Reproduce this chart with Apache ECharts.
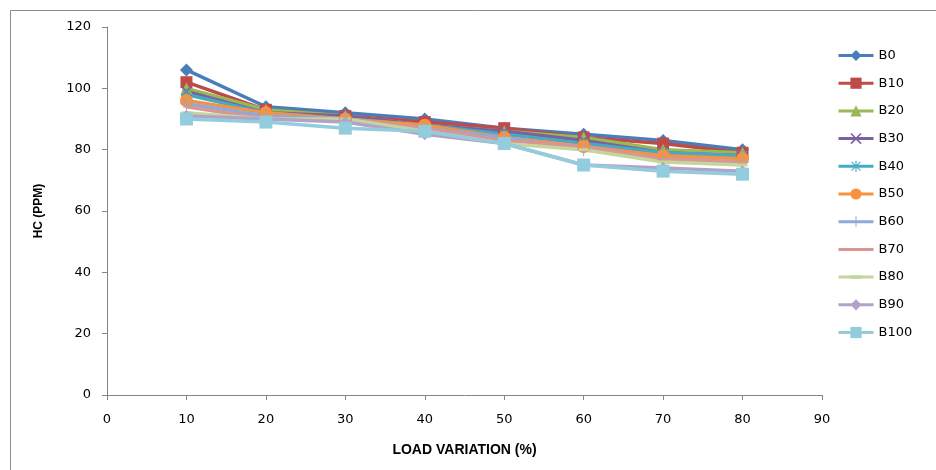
<!DOCTYPE html>
<html>
<head>
<meta charset="utf-8">
<script src="https://cdn.jsdelivr.net/npm/echarts@6/dist/echarts.min.js"></script>
<style>html,body{margin:0;padding:0;background:#fff;}#c{width:936px;height:470px;}</style>
</head>
<body>
<div id="c"></div>
<script>
var loads = [10, 20, 30, 40, 50, 60, 70, 80];
var seriesNames = ['B0','B10','B20','B30','B40','B50','B60','B70','B80','B90','B100'];
var B0   = [106, 94, 92, 90, 87, 85, 83, 80];
var B10  = [102, 93, 91, 89, 87, 84, 82, 79];
var B20  = [100, 93, 91, 88, 86, 84, 80, 79];
var B30  = [99, 92, 91, 88, 86, 83, 79, 78];
var B40  = [98, 92, 90, 88, 85, 82, 79, 78];
var B50  = [96, 92, 90, 88, 84, 81, 78, 77];
var B60  = [95, 91, 90, 87, 84, 80, 77, 76];
var B70  = [94, 90, 90, 87, 83, 81, 77, 76];
var B80  = [92, 90, 90, 86, 82, 80, 76, 75];
var B90  = [91, 90, 89, 85, 82, 75, 74, 73];
var B100 = [90, 89, 87, 86, 82, 75, 73, 72];
var values = [B0,B10,B20,B30,B40,B50,B60,B70,B80,B90,B100];

var colors = ['#4A7EBB','#BE4B48','#98B954','#7D60A0','#46AAC5','#F69240','#8EA9DB','#D99694','#C3D69B','#B3A2C7','#93CDDD'];
var symX = 'path://M0,1L1,0L5,4L9,0L10,1L6,5L10,9L9,10L5,6L1,10L0,9L4,5Z';
var symStar = 'path://M4.5,0H5.5V10H4.5Z M0,4.5H10V5.5H0Z M0.7,1.4L1.4,0.7L9.3,8.6L8.6,9.3Z M8.6,0.7L9.3,1.4L1.4,9.3L0.7,8.6Z';
var symPlus = 'path://M4.6,0H5.4V4.6H10V5.4H5.4V10H4.6V5.4H0V4.6H4.6Z';
var symDashShort = 'path://M0,0L0,0 M2,4H8V6H2Z M10,10L10,10';
var symDash = 'path://M0,0L0,0 M0,3.5H10V6.5H0Z M10,10L10,10';
var symbols = ['diamond','rect','triangle',symX,symStar,'circle',symPlus,symDashShort,symDash,'diamond','rect'];
var sizes = [13,12,12,11,11,13,13,10,10,12,13];

var series = seriesNames.map(function(n,i){
  return {
    name: n, type: 'line',
    data: loads.map(function(x,j){ return [x, values[i][j]]; }),
    symbol: symbols[i], symbolSize: sizes[i], symbolKeepAspect: true,
    lineStyle: {width: 3.5, color: colors[i]},
    itemStyle: {color: colors[i]},
    emphasis: {disabled: true},
    animation: false
  };
});

var chart = echarts.init(document.getElementById('c'), null, {renderer: 'canvas'});
chart.setOption({
  animation: false,
  color: colors,
  graphic: [{type:'rect', shape:{x:10.5,y:10.5,width:2000,height:2000}, style:{fill:'none', stroke:'#8c8c8c', lineWidth:1}, z:-1}],
  grid: {left: 107, right: 114, top: 27, bottom: 75},
  legend: {
    orient: 'vertical', left: 832, top: 44,
    itemWidth: 35, itemHeight: 14, itemGap: 14.7, itemTextGap: 4,
    lineStyle: {width: 3},
    textStyle: {fontFamily: 'DejaVu Sans', fontSize: 13, color: '#000'},
    data: seriesNames
  },
  xAxis: {
    type: 'value', min: 0, max: 90, interval: 10,
    name: 'LOAD VARIATION (%)', nameLocation: 'middle', nameGap: 48,
    nameTextStyle: {fontFamily: 'Liberation Sans', fontWeight: 'bold', fontSize: 14, color: '#000'},
    axisLine: {lineStyle: {color: '#868686'}},
    axisTick: {length: 5, lineStyle: {color: '#868686'}},
    axisLabel: {fontFamily: 'DejaVu Sans', fontSize: 13, color: '#000', margin: 18},
    splitLine: {show: false}
  },
  yAxis: {
    type: 'value', min: 0, max: 120, interval: 20,
    name: 'HC (PPM)', nameLocation: 'middle', nameGap: 62,
    nameTextStyle: {fontFamily: 'Liberation Sans', fontWeight: 'bold', fontSize: 12, color: '#000'},
    axisLine: {show: true, lineStyle: {color: '#868686'}},
    axisTick: {show: true, length: 5, lineStyle: {color: '#868686'}},
    axisLabel: {fontFamily: 'DejaVu Sans', fontSize: 13, color: '#000', margin: 16},
    splitLine: {show: false}
  },
  series: series
});
</script>
</body>
</html>
